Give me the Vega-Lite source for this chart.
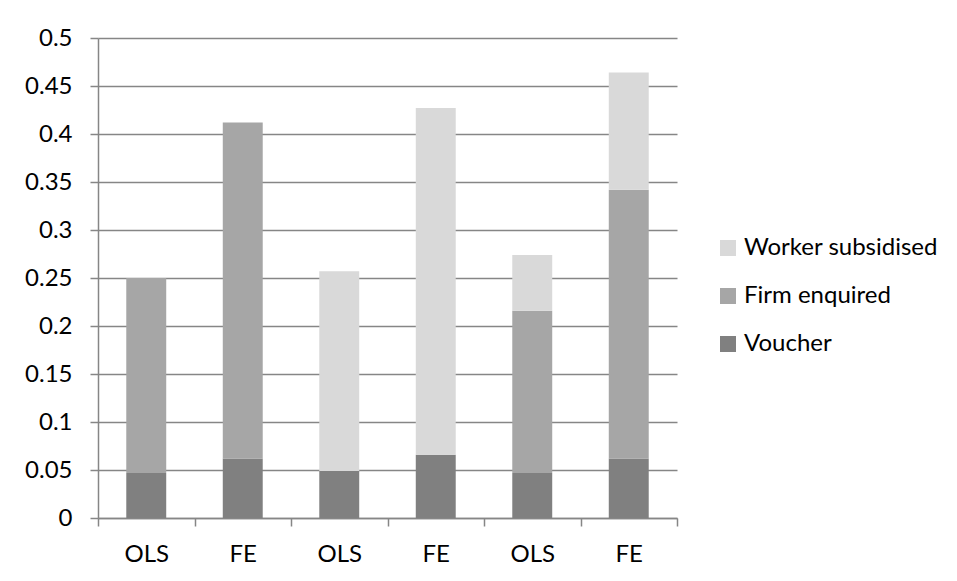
{
  "$schema": "https://vega.github.io/schema/vega-lite/v6.json",
  "width": 579,
  "height": 480,
  "autosize": {"type": "none"},
  "padding": {"left": 98, "top": 38, "right": 280, "bottom": 63},
  "background": "white",
  "config": {
    "font": "Lato",
    "view": {"stroke": null}
  },
  "data": {
    "values": [
      {"model": "OLS (1)", "component": "Voucher", "share": 0.047},
      {"model": "OLS (1)", "component": "Firm enquired", "share": 0.203},
      {"model": "FE (1)", "component": "Voucher", "share": 0.062},
      {"model": "FE (1)", "component": "Firm enquired", "share": 0.350},
      {"model": "OLS (2)", "component": "Voucher", "share": 0.049},
      {"model": "OLS (2)", "component": "Worker subsidised", "share": 0.208},
      {"model": "FE (2)", "component": "Voucher", "share": 0.066},
      {"model": "FE (2)", "component": "Worker subsidised", "share": 0.361},
      {"model": "OLS (3)", "component": "Voucher", "share": 0.047},
      {"model": "OLS (3)", "component": "Firm enquired", "share": 0.169},
      {"model": "OLS (3)", "component": "Worker subsidised", "share": 0.058},
      {"model": "FE (3)", "component": "Voucher", "share": 0.062},
      {"model": "FE (3)", "component": "Firm enquired", "share": 0.280},
      {"model": "FE (3)", "component": "Worker subsidised", "share": 0.122}
    ]
  },
  "transform": [
    {"calculate": "indexof(['Voucher', 'Firm enquired', 'Worker subsidised'], datum.component)", "as": "stack_rank"}
  ],
  "mark": {"type": "bar", "width": {"band": 0.414}},
  "encoding": {
    "x": {
      "field": "model",
      "type": "nominal",
      "sort": null,
      "scale": {"paddingInner": 0, "paddingOuter": 0},
      "axis": {
        "title": null,
        "labelExpr": "isString(datum.value) ? split(datum.value, ' ')[0] : ''",
        "labelAngle": 0,
        "labelFontSize": 24,
        "labelColor": "#000000",
        "labelPadding": 16,
        "tickBand": "extent",
        "tickSize": 8,
        "tickColor": "#868686",
        "tickWidth": 1.5,
        "domainColor": "#868686",
        "domainWidth": 1.5,
        "grid": false
      }
    },
    "y": {
      "field": "share",
      "type": "quantitative",
      "stack": "zero",
      "scale": {"domain": [0, 0.5], "nice": false},
      "axis": {
        "title": null,
        "values": [0, 0.05, 0.1, 0.15, 0.2, 0.25, 0.3, 0.35, 0.4, 0.45, 0.5],
        "format": ".2~f",
        "labelFontSize": 24,
        "labelColor": "#000000",
        "labelPadding": 18,
        "tickSize": 8,
        "tickColor": "#868686",
        "tickWidth": 1.5,
        "domainColor": "#868686",
        "domainWidth": 1.5,
        "grid": true,
        "gridColor": "#868686",
        "gridWidth": 1.5
      }
    },
    "color": {
      "field": "component",
      "type": "nominal",
      "scale": {
        "domain": ["Worker subsidised", "Firm enquired", "Voucher"],
        "range": ["#d9d9d9", "#a6a6a6", "#808080"]
      },
      "legend": {
        "title": null,
        "orient": "none",
        "legendX": 618,
        "legendY": 198,
        "padding": 0,
        "symbolType": "square",
        "symbolSize": 256,
        "symbolStrokeWidth": 0,
        "labelFontSize": 24,
        "labelLimit": 0,
        "labelColor": "#000000",
        "labelOffset": 4,
        "rowPadding": 24
      }
    },
    "order": {"field": "stack_rank", "type": "quantitative"}
  }
}
